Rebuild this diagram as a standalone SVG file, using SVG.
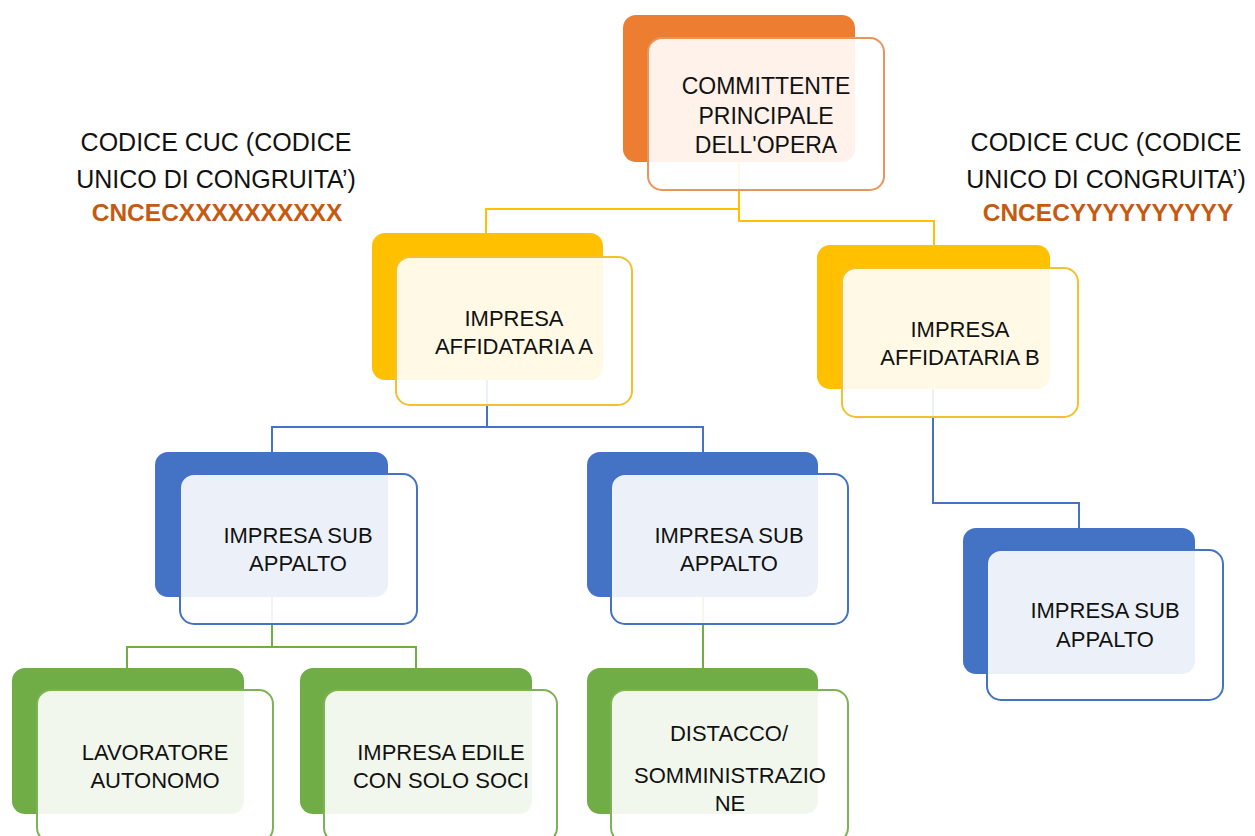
<svg xmlns="http://www.w3.org/2000/svg" width="1255" height="836" viewBox="0 0 1255 836">
<style>
.bk{stroke:none}
.fr{fill:#ffffff;fill-opacity:0.9;stroke-width:2}
.t{font-family:"Liberation Sans",Arial,sans-serif;font-size:22px;fill:#111111;text-anchor:middle}
.lb{font-family:"Liberation Sans",Arial,sans-serif;font-size:25px;fill:#111111;text-anchor:middle}
.code{font-family:"Liberation Sans",Arial,sans-serif;font-size:24.5px;font-weight:bold;fill:#C55A11;text-anchor:middle}
.c{fill:none;stroke-width:2}
.or .bk{fill:#ED7D31}.or .fr{stroke:#E8955C}
.ye .bk{fill:#FFC000}.ye .fr{stroke:#F5C030}
.bl .bk{fill:#4472C4}.bl .fr{stroke:#4472C4}
.gr .bk{fill:#70AD47}.gr .fr{stroke:#7DB257}
</style>
<rect width="1255" height="836" fill="#ffffff"/>
<g id="connectors">
<path class="c" stroke="#FFC000" d="M739,162 V209 H486 V233"/>
<path class="c" stroke="#FFC000" d="M739,162 V221 H934 V245"/>
<path class="c" stroke="#4472C4" d="M487,380 V427 H272 V452"/>
<path class="c" stroke="#4472C4" d="M487,427 H703 V452"/>
<path class="c" stroke="#4472C4" d="M933,389 V503 H1079 V528"/>
<path class="c" stroke="#70AD47" d="M272,597 V647 H127 V668"/>
<path class="c" stroke="#70AD47" d="M272,647 H416 V668"/>
<path class="c" stroke="#70AD47" d="M703,597 V668"/>
</g>
<g id="label-left">
<text class="lb" x="216" y="151">CODICE CUC (CODICE</text>
<text class="lb" x="216" y="188">UNICO DI CONGRUITA’)</text>
<text class="code" x="217" y="221">CNCECXXXXXXXXXX</text>
</g>
<g id="label-right">
<text class="lb" x="1106" y="151">CODICE CUC (CODICE</text>
<text class="lb" x="1106" y="188">UNICO DI CONGRUITA’)</text>
<text class="code" x="1108" y="221">CNCECYYYYYYYYYY</text>
</g>
<g id="committente" class="or">
<rect class="bk" x="623" y="15" width="232" height="147" rx="13"/>
<rect class="fr" x="648" y="38" width="236" height="152" rx="14"/>
<text class="t" style="font-size:23px" x="766" y="94">COMMITTENTE</text>
<text class="t" style="font-size:23px" x="766" y="124">PRINCIPALE</text>
<text class="t" style="font-size:23px" x="766" y="153">DELL'OPERA</text>
</g>
<g id="affidataria-a" class="ye">
<rect class="bk" x="372" y="233" width="231" height="147" rx="13"/>
<rect class="fr" x="396" y="257" width="236" height="148" rx="14"/>
<text class="t" x="514" y="326">IMPRESA</text>
<text class="t" x="514" y="354">AFFIDATARIA A</text>
</g>
<g id="affidataria-b" class="ye">
<rect class="bk" x="817" y="245" width="233" height="144" rx="13"/>
<rect class="fr" x="842" y="268" width="236" height="149" rx="14"/>
<text class="t" x="960" y="337">IMPRESA</text>
<text class="t" x="960" y="365">AFFIDATARIA B</text>
</g>
<g id="sub-a1" class="bl">
<rect class="bk" x="155" y="452" width="233" height="145" rx="13"/>
<rect class="fr" x="180" y="474" width="237" height="150" rx="14"/>
<text class="t" x="298" y="543">IMPRESA SUB</text>
<text class="t" x="298" y="571">APPALTO</text>
</g>
<g id="sub-a2" class="bl">
<rect class="bk" x="587" y="452" width="231" height="145" rx="13"/>
<rect class="fr" x="611" y="474" width="237" height="150" rx="14"/>
<text class="t" x="729" y="543">IMPRESA SUB</text>
<text class="t" x="729" y="571">APPALTO</text>
</g>
<g id="sub-b" class="bl">
<rect class="bk" x="963" y="528" width="232" height="146" rx="13"/>
<rect class="fr" x="987" y="550" width="236" height="150" rx="14"/>
<text class="t" x="1105" y="618">IMPRESA SUB</text>
<text class="t" x="1105" y="647">APPALTO</text>
</g>
<g id="lavoratore" class="gr">
<rect class="bk" x="12" y="668" width="232" height="146" rx="13"/>
<rect class="fr" x="37" y="690" width="236" height="152" rx="14"/>
<text class="t" x="155" y="760">LAVORATORE</text>
<text class="t" x="155" y="788">AUTONOMO</text>
</g>
<g id="impresa-edile" class="gr">
<rect class="bk" x="300" y="668" width="232" height="146" rx="13"/>
<rect class="fr" x="324" y="690" width="233" height="152" rx="14"/>
<text class="t" x="441" y="760">IMPRESA EDILE</text>
<text class="t" x="441" y="788">CON SOLO SOCI</text>
</g>
<g id="distacco" class="gr">
<rect class="bk" x="587" y="668" width="231" height="146" rx="13"/>
<rect class="fr" x="611" y="690" width="237" height="152" rx="14"/>
<text class="t" x="729" y="741">DISTACCO/</text>
<text class="t" x="730" y="783">SOMMINISTRAZIO</text>
<text class="t" x="730" y="811">NE</text>
</g>
</svg>
